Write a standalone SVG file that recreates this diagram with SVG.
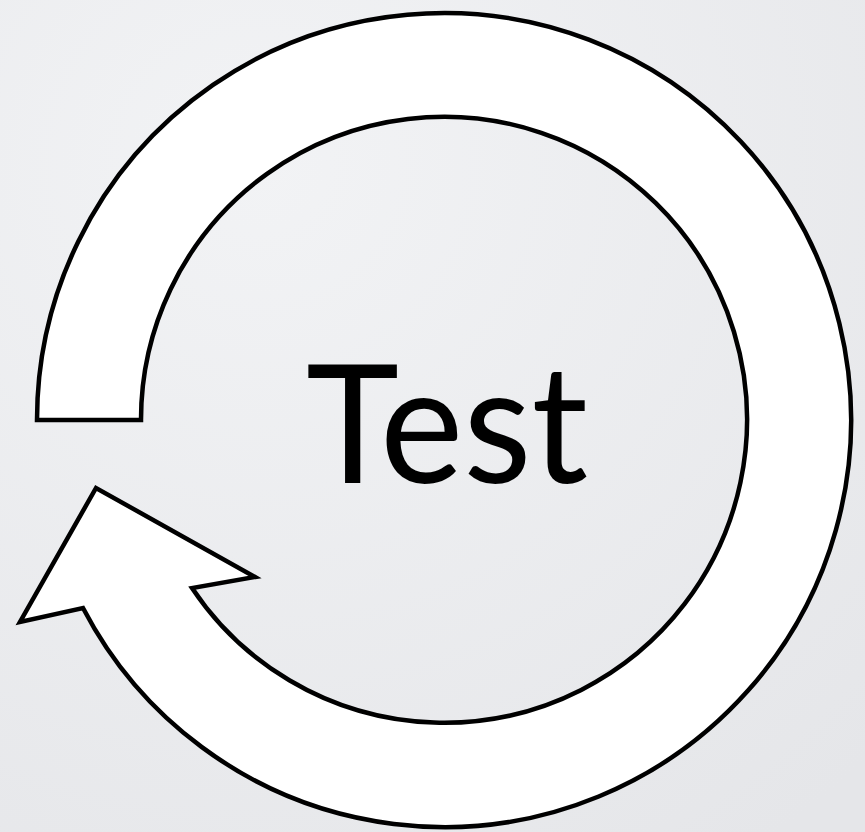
<svg xmlns="http://www.w3.org/2000/svg" width="865" height="832" viewBox="0 0 865 832">
  <defs>
    <radialGradient id="bg" cx="0.3" cy="0.2" r="1">
      <stop offset="0" stop-color="#f2f3f5"/>
      <stop offset="1" stop-color="#e5e6e9"/>
    </radialGradient>
  </defs>
  <style>
    .ring { fill: #ffffff; stroke: #000000; stroke-width: 4.5; stroke-linejoin: miter; stroke-miterlimit: 10; }
    .label { font-family: "Lato", "Open Sans", "Liberation Sans", sans-serif; font-size: 164px; fill: #000000; }
  </style>
  <rect width="865" height="832" fill="url(#bg)"/>
  <g id="cycle-arrow">
    <path class="ring" d="M 37 420 A 407 407 0 1 1 83 608 L 20 622 L 96 488 L 255 577 L 192 588 A 303 303 0 1 0 141 420 Z"/>
  </g>
  <g id="label-test">
    <text class="label" x="306" y="483" textLength="282" lengthAdjust="spacingAndGlyphs">Test</text>
  </g>
</svg>
